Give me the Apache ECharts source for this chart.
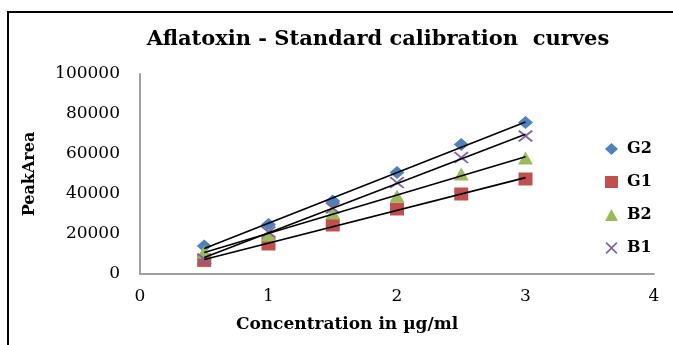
<!DOCTYPE html>
<html>
<head>
<meta charset="utf-8">
<script src="https://cdn.jsdelivr.net/npm/echarts@6/dist/echarts.min.js"></script>
<style>html,body{margin:0;padding:0;background:#fff;overflow:hidden;}#c{width:673px;height:345px;}</style>
</head>
<body>
<div id="c"></div>
<script>
var concentrations = [0.5, 1, 1.5, 2, 2.5, 3];
var G2 = [14000, 24800, 36500, 50700, 64800, 75700];
var G1 = [6800, 15000, 24500, 32500, 40000, 47500];
var B2 = [11000, 19500, 30500, 39000, 50000, 58000];
var B1 = [7500, 21000, 33000, 45700, 58200, 69000];
var seriesNames = ['G2', 'G1', 'B2', 'B1'];
var xTicks = [0, 1, 2, 3, 4];
var yTicks = [0, 20000, 40000, 60000, 80000, 100000];

var FONT = 'DejaVu Serif';
var values = {G2: G2, G1: G1, B2: B2, B1: B1};
var colors = {G2: '#4F81BD', G1: '#C0504D', B2: '#9BBB59', B1: '#8064A2'};
var symbols = {
  G2: 'diamond',
  G1: 'rect',
  B2: 'triangle',
  B1: 'path://M0,1L1,0L5,4L9,0L10,1L6,5L10,9L9,10L5,6L1,10L0,9L4,5Z'
};
var sizes = {G2: [15, 13], G1: [14, 13], B2: [15, 13], B1: [15, 12]};

function pairs(ys) { return concentrations.map(function (x, i) { return [x, ys[i]]; }); }
function fit(ys) {
  var n = concentrations.length, sx = 0, sy = 0, sxx = 0, sxy = 0;
  for (var i = 0; i < n; i++) { var x = concentrations[i], y = ys[i]; sx += x; sy += y; sxx += x * x; sxy += x * y; }
  var b = (n * sxy - sx * sy) / (n * sxx - sx * sx);
  var a = (sy - b * sx) / n;
  var x0 = concentrations[0], x1 = concentrations[n - 1];
  return [[x0, a + b * x0], [x1, a + b * x1]];
}

var series = [];
seriesNames.forEach(function (nm) {
  series.push({
    name: nm, type: 'scatter', data: pairs(values[nm]),
    symbol: symbols[nm], symbolSize: sizes[nm],
    itemStyle: {color: colors[nm], opacity: 1}, z: 3
  });
});
seriesNames.forEach(function (nm) {
  series.push({
    name: nm + ' trend', type: 'line', data: fit(values[nm]),
    showSymbol: false, symbol: 'none', silent: true,
    lineStyle: {color: '#000', width: 1.6}, z: 5
  });
});

var chart = echarts.init(document.getElementById('c'), null, {renderer: 'canvas'});
chart.setOption({
  animation: false,
  backgroundColor: '#fff',
  title: {
    text: 'Aflatoxin - Standard calibration  curves',
    left: 378, top: 29, padding: 0, textAlign: 'center',
    textStyle: {fontFamily: FONT, fontWeight: 'bold', fontSize: 21, color: '#000'}
  },
  graphic: [{
    type: 'polyline', z: -10, silent: true,
    shape: {points: [[8, 345], [8, 12], [673, 12]]},
    style: {fill: null, stroke: '#000', lineWidth: 2}
  }],
  legend: {
    orient: 'vertical', left: 605, top: 141, padding: 0,
    data: seriesNames, itemWidth: 13, itemHeight: 12, itemGap: 17,
    textStyle: {fontFamily: FONT, fontWeight: 'bold', fontSize: 16, color: '#000', padding: [0, 0, 0, 4]}
  },
  grid: {left: 140, top: 74, right: 19, bottom: 71, containLabel: false},
  xAxis: {
    type: 'value', min: xTicks[0], max: xTicks[xTicks.length - 1], interval: 1,
    name: 'Concentration in µg/ml', nameLocation: 'middle', nameGap: 42,
    nameTextStyle: {fontFamily: FONT, fontWeight: 'bold', fontSize: 17, color: '#000', padding: [0, 100, 0, 0]},
    axisLine: {show: true, lineStyle: {color: '#a0a0a0', width: 2}},
    axisTick: {show: false}, splitLine: {show: false},
    axisLabel: {margin: 14, fontFamily: FONT, fontSize: 17, color: '#000'}
  },
  yAxis: {
    type: 'value', min: yTicks[0], max: yTicks[yTicks.length - 1], interval: 20000,
    name: 'PeakArea', nameLocation: 'middle', nameGap: 102,
    nameTextStyle: {fontFamily: FONT, fontWeight: 'bold', fontSize: 16, color: '#000'},
    axisLine: {show: true, lineStyle: {color: '#a0a0a0', width: 2}},
    axisTick: {show: false}, splitLine: {show: false},
    axisLabel: {margin: 20, fontFamily: FONT, fontSize: 17, color: '#000', formatter: function (v) { return String(v); }}
  },
  series: series
});
</script>
</body>
</html>
